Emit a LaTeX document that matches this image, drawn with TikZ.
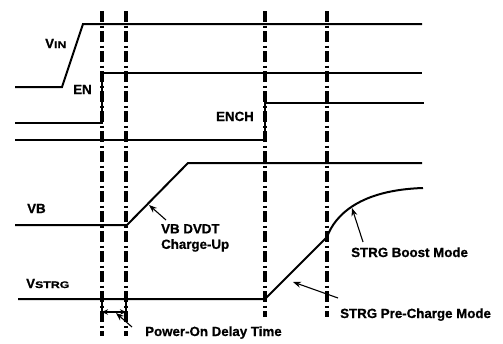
\documentclass[tikz,border=0pt]{standalone}
\usepackage{fontspec}
\setmainfont{Liberation Sans}[BoldFeatures={FakeBold=0.8}]
\usetikzlibrary{arrows.meta}
\tikzset{
  sig/.style={line width=2pt, line join=miter},
  guide/.style={line width=3.2pt, dash pattern=on 11pt off 3.5pt on 2pt off 3.5pt},
  lbl/.style={inner sep=0pt, font=\fontsize{13.3}{15.5}\selectfont\bfseries},
  ptr/.style={line width=1.1pt, -{Stealth[length=8pt,width=6pt]}},
  dim/.style={line width=1.1pt, {Stealth[length=6pt,width=5.5pt]}-{Stealth[length=6pt,width=5.5pt]}},
}
\newcommand{\subt}[1]{\scalebox{1.3}[1]{\fontsize{9.5}{10}\selectfont #1}}
\begin{document}
\begin{tikzpicture}[x=1pt,y=-1pt]
\useasboundingbox (0,0) rectangle (503,343);
% guide lines
\foreach \gx/\gn/\gy in {102/ga/336,126/gb/336,265/gc/317,327/gd/317}{
  \coordinate (\gn top) at (\gx,11);
  \coordinate (\gn bot) at (\gx,\gy);
  \draw[guide] (\gn top) -- (\gn bot);
}
% signals
\draw[sig] (15,87) -- (62,87) -- (83,24) -- (422,24);
\draw[sig] (15,123) -- (102,123) -- (102,73) -- (422,73);
\draw[sig] (15,140) -- (265,140) -- (265,103) -- (424,103);
\draw[sig] (15,225) -- (127,225) -- (188,163) -- (422,163);
\draw[sig] (18,299) -- (265,299) -- (327,237) .. controls (335,215) and (360,190) .. (423,188);
% labels
\node[lbl, anchor=base west] (vin) at (45,48) {V\subt{IN}};
\node[lbl, anchor=base west] (en) at (73,94) {EN};
\node[lbl, anchor=base east] (ench) at (254,121) {ENCH};
\node[lbl, anchor=base west] (vb) at (27,213) {VB};
\node[lbl, anchor=base west] (vstrg) at (26,288) {V\subt{STRG}};
\node[lbl, anchor=north west, align=left] (dvdt) at (161,224) {VB DVDT\\Charge-Up};
\node[lbl, anchor=base west] (pod) at (145,336) {Power-On Delay Time};
\node[lbl, anchor=base west] (boost) at (351,257) {STRG Boost Mode};
\node[lbl, anchor=base west] (pre) at (340,318) {STRG Pre-Charge Mode};
% pointer arrows
\coordinate (dvdtS) at (166,220); \coordinate (dvdtT) at (149,205);
\draw[ptr] (dvdtS) -- (dvdtT);
\coordinate (boostS) at (363,242); \coordinate (boostT) at (352,208);
\draw[ptr] (boostS) -- (boostT);
\coordinate (preS) at (338,298); \coordinate (preT) at (293,282);
\draw[ptr] (preS) -- (preT);
% delay dimension
\coordinate (dL) at (102,312); \coordinate (dR) at (126,312);
\draw[line width=2pt] (102,299) -- (dL);
\draw[line width=2pt] (126,299) -- (dR);
\draw[dim] (dL) -- (dR);
\coordinate (podS) at (132,327); \coordinate (podT) at (116,313);
\draw[ptr] (podS) -- (podT);
\end{tikzpicture}
\end{document}
